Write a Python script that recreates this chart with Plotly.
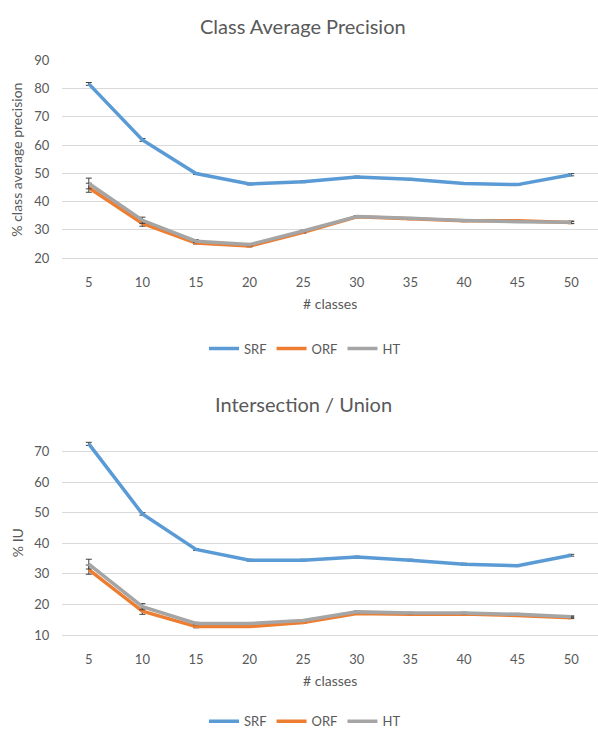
import plotly.graph_objects as go

# ---------------- data ----------------
classes = [5, 10, 15, 20, 25, 30, 35, 40, 45, 50]

# Class Average Precision (%)
cap_srf = [81.6, 61.8, 49.9, 46.2, 47.0, 48.7, 47.9, 46.4, 46.0, 49.5]
cap_orf = [44.9, 32.3, 25.4, 24.3, 29.1, 34.6, 33.9, 33.2, 33.2, 32.6]
cap_ht = [46.4, 33.4, 26.0, 24.8, 29.6, 34.7, 34.1, 33.3, 32.9, 32.7]
cap_srf_err = [0.5, 0.5, 0.3, 0.3, 0.3, 0.3, 0.3, 0.3, 0.3, 0.4]
cap_orf_err = [1.6, 1.0, 0.4, 0.3, 0.3, 0.3, 0.3, 0.3, 0.3, 0.4]
cap_ht_err = [1.9, 1.1, 0.5, 0.4, 0.3, 0.3, 0.3, 0.3, 0.3, 0.4]

# Intersection / Union (%)
iu_srf = [72.5, 49.6, 38.0, 34.5, 34.5, 35.5, 34.5, 33.2, 32.7, 36.1]
iu_orf = [31.4, 17.8, 12.8, 12.8, 14.1, 17.1, 16.8, 16.9, 16.4, 15.7]
iu_ht = [33.2, 19.3, 13.8, 13.8, 14.8, 17.6, 17.2, 17.2, 16.8, 16.0]
iu_srf_err = [0.5, 0.4, 0.3, 0.3, 0.3, 0.3, 0.3, 0.3, 0.3, 0.3]
iu_orf_err = [1.5, 1.0, 0.4, 0.3, 0.3, 0.3, 0.3, 0.3, 0.3, 0.3]
iu_ht_err = [1.6, 1.0, 0.4, 0.3, 0.3, 0.3, 0.3, 0.3, 0.3, 0.3]

cap_ticks = [20, 30, 40, 50, 60, 70, 80, 90]
iu_ticks = [10, 20, 30, 40, 50, 60, 70]

series_names = ["SRF", "ORF", "HT"]
colors = ["#5B9BD5", "#ED7D31", "#A5A5A5"]

# ---------------- style ----------------
W, H = 598, 740
FONT = "Lato, 'Open Sans', sans-serif"
TXT = "#595959"
GRID = "#D9D9D9"


def py(px):
    return 1 - px / H


fig = go.Figure()

panels = [
    dict(xa="x", ya="y", leg="legend",
         data=[(cap_srf, cap_srf_err), (cap_orf, cap_orf_err), (cap_ht, cap_ht_err)]),
    dict(xa="x2", ya="y2", leg="legend2",
         data=[(iu_srf, iu_srf_err), (iu_orf, iu_orf_err), (iu_ht, iu_ht_err)]),
]

for p in panels:
    for name, col, (vals, errs) in zip(series_names, colors, p["data"]):
        fig.add_trace(go.Scatter(
            x=classes, y=vals, name=name, mode="lines",
            line=dict(color=col, width=3.5),
            error_y=dict(type="data", array=errs, visible=True,
                         color="#404040", thickness=1, width=3),
            xaxis=p["xa"], yaxis=p["ya"], legend=p["leg"],
            hoverinfo="x+y+name", cliponaxis=False,
        ))

# bottom panel: 10 at 641px, 70 at 453.3px; extend slightly above 70 so the
# first SRF point (above the top gridline) is not clipped
iu_pp = (641 - 453.3) / 60.0
iu_top = 74
iu_top_px = 453.3 - (iu_top - 70) * iu_pp

xdom = [62 / W, 1.0]
common_x = dict(range=[2.5, 52.5], tickvals=classes, showgrid=False,
                zeroline=False, showline=True, linecolor=GRID, linewidth=1,
                ticks="outside", tickcolor="rgba(0,0,0,0)",
                tickfont=dict(family=FONT, size=13, color=TXT), fixedrange=True)
common_y = dict(showgrid=True, gridcolor=GRID, gridwidth=1, zeroline=False,
                showline=False, ticks="outside", tickcolor="rgba(0,0,0,0)",
                ticklen=9,
                tickfont=dict(family=FONT, size=13, color=TXT), fixedrange=True)

fig.update_layout(
    width=W, height=H,
    margin=dict(l=0, r=0, t=0, b=0),
    paper_bgcolor="white", plot_bgcolor="white",
    font=dict(family=FONT, color=TXT),
    xaxis=dict(domain=xdom, anchor="y", ticklen=12, **common_x),
    yaxis=dict(domain=[py(255.7), py(53.3)], range=[20, 90], anchor="x",
               tickvals=cap_ticks, **common_y),
    xaxis2=dict(domain=xdom, anchor="y2", ticklen=12, **common_x),
    yaxis2=dict(domain=[py(641), py(iu_top_px)], range=[10, iu_top], anchor="x2",
                tickvals=iu_ticks, **common_y),
    legend=dict(orientation="h", x=305 / W, xanchor="center",
                y=py(348), yanchor="middle",
                font=dict(family=FONT, size=13, color=TXT),
                bgcolor="rgba(0,0,0,0)", itemwidth=30),
    legend2=dict(orientation="h", x=305 / W, xanchor="center",
                 y=py(729), yanchor="middle",
                 font=dict(family=FONT, size=13, color=TXT),
                 bgcolor="rgba(0,0,0,0)", itemwidth=30),
    showlegend=True,
)

annotations = [
    dict(text="Class Average Precision", x=303 / W, y=py(18), size=20),
    dict(text="Intersection / Union", x=303 / W, y=py(405), size=20),
    dict(text="# classes", x=(62 + 598) / 2 / W, y=py(302), size=14),
    dict(text="# classes", x=(62 + 598) / 2 / W, y=py(687), size=14),
    dict(text="% class average precision", x=17 / W, y=py(155), size=14, angle=-90),
    dict(text="% IU", x=17 / W, y=py(547), size=14, angle=-90),
]
for a in annotations:
    fig.add_annotation(
        text=a["text"], xref="paper", yref="paper", x=a["x"], y=a["y"],
        xanchor="center", yanchor="middle", showarrow=False,
        textangle=a.get("angle", 0),
        font=dict(family=FONT, size=a["size"], color=TXT),
    )

fig.write_html(
    "out.html",
    config={"displayModeBar": False},
    post_script="document.body.style.margin='0';document.body.style.padding='0';",
)
